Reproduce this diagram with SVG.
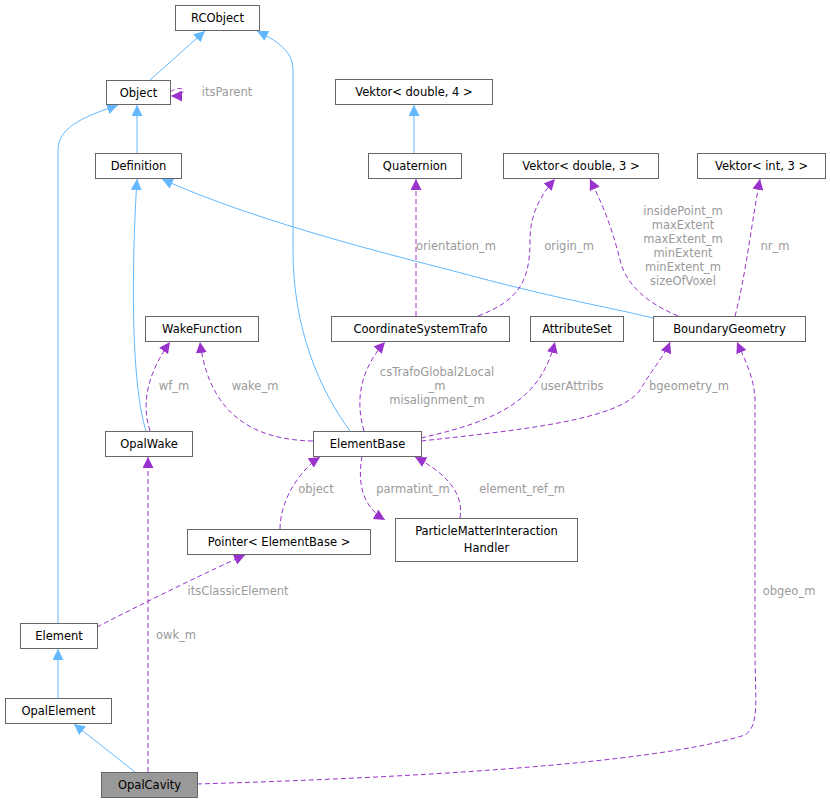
<svg xmlns="http://www.w3.org/2000/svg" width="830" height="804" viewBox="0 0 830 804">
<style>
.n rect{fill:#fff;stroke:#666;stroke-width:1}
text{font-family:"DejaVu Sans",sans-serif;font-size:11.5px;fill:#000}
.l{fill:#9a9a9a;text-anchor:middle}
.b{fill:none;stroke:#63b8ff;stroke-width:1}
.p{fill:none;stroke:#9a32cd;stroke-width:1;stroke-dasharray:5,3}
</style>
<defs>
<marker id="ab" viewBox="0 0 10 10" refX="10" refY="5" markerWidth="11" markerHeight="11" markerUnits="userSpaceOnUse" orient="auto"><path d="M0,0L10,5L0,10z" fill="#63b8ff"/></marker>
<marker id="ap" viewBox="0 0 10 10" refX="10" refY="5" markerWidth="11" markerHeight="11" markerUnits="userSpaceOnUse" orient="auto"><path d="M0,0L10,5L0,10z" fill="#9a32cd"/></marker>
</defs>
<g id="edges">
<path class="b" marker-end="url(#ab)" d="M150,80L205,31"/>
<path class="b" marker-end="url(#ab)" d="M137,153L137,105"/>
<path class="b" marker-end="url(#ab)" d="M58,623L58,150C58,125 90,115 118,105"/>
<path class="b" marker-end="url(#ab)" d="M350,431C320,390 293,330 293,250L293,70C293,50 275,40 257,31"/>
<path class="b" marker-end="url(#ab)" d="M414,153L414,105"/>
<path class="b" marker-end="url(#ab)" d="M653,318C600,305 560,300 450,270C330,240 230,210 162,179"/>
<path class="b" marker-end="url(#ab)" d="M146,431C130,380 132,260 137,179"/>
<path class="b" marker-end="url(#ab)" d="M58,698L58,649"/>
<path class="b" marker-end="url(#ab)" d="M135,772L74,724"/>
<path class="p" marker-end="url(#ap)" d="M170,92C185,82 190,96 171,96"/>
<text class="l" x="227" y="96">itsParent</text>
<path class="p" marker-end="url(#ap)" d="M416,316L416,179"/>
<text class="l" x="456" y="250">orientation_m</text>
<path class="p" marker-end="url(#ap)" d="M478,316C520,300 530,280 530,240C530,210 545,190 555,179"/>
<text class="l" x="569" y="250">origin_m</text>
<path class="p" marker-end="url(#ap)" d="M678,316C640,300 625,280 620,260C610,220 600,200 590,179"/>
<text class="l" x="683" y="215">insidePoint_m</text>
<text class="l" x="683" y="229">maxExtent</text>
<text class="l" x="683" y="243">maxExtent_m</text>
<text class="l" x="683" y="257">minExtent</text>
<text class="l" x="683" y="271">minExtent_m</text>
<text class="l" x="683" y="285">sizeOfVoxel</text>
<path class="p" marker-end="url(#ap)" d="M735,316C745,280 752,220 760,179"/>
<text class="l" x="775" y="250">nr_m</text>
<path class="p" marker-end="url(#ap)" d="M313,441C260,440 210,420 200,342"/>
<text class="l" x="255" y="390">wake_m</text>
<path class="p" marker-end="url(#ap)" d="M150,431C140,400 150,370 170,342"/>
<text class="l" x="174" y="390">wf_m</text>
<path class="p" marker-end="url(#ap)" d="M364,431C355,400 360,370 385,342"/>
<text class="l" x="437" y="376">csTrafoGlobal2Local</text>
<text class="l" x="437" y="390">_m</text>
<text class="l" x="437" y="404">misalignment_m</text>
<path class="p" marker-end="url(#ap)" d="M421,438C500,420 540,400 555,342"/>
<text class="l" x="572" y="390">userAttribs</text>
<path class="p" marker-end="url(#ap)" d="M421,441C520,430 620,420 640,390C655,365 665,355 670,342"/>
<text class="l" x="689" y="390">bgeometry_m</text>
<path class="p" marker-end="url(#ap)" d="M362,456C358,480 360,505 385,520"/>
<text class="l" x="413" y="493">parmatint_m</text>
<path class="p" marker-end="url(#ap)" d="M460,518C465,490 440,470 415,457"/>
<text class="l" x="522" y="493">element_ref_m</text>
<path class="p" marker-end="url(#ap)" d="M280,529C280,500 300,470 320,457"/>
<text class="l" x="316" y="493">object</text>
<path class="p" marker-end="url(#ap)" d="M97,627C140,605 200,575 245,555"/>
<text class="l" x="238" y="595">itsClassicElement</text>
<path class="p" marker-end="url(#ap)" d="M148,772L148,457"/>
<text class="l" x="176" y="639">owk_m</text>
<path class="p" marker-end="url(#ap)" d="M197,784C400,778 650,765 745,735C760,725 755,700 755,650L755,400C755,380 745,360 737,342"/>
<text class="l" x="789" y="595">obgeo_m</text>
</g>
<g id="RCObject" class="n"><rect x="175.5" y="5.5" width="84" height="25"/><text x="217.5" y="22" text-anchor="middle">RCObject</text></g>
<g id="Object" class="n"><rect x="106.5" y="80.5" width="64" height="24"/><text x="138.5" y="97" text-anchor="middle">Object</text></g>
<g id="Definition" class="n"><rect x="95.5" y="153.5" width="86" height="25"/><text x="138.5" y="170" text-anchor="middle">Definition</text></g>
<g id="Vektor4" class="n"><rect x="335.5" y="79.5" width="157" height="25"/><text x="414" y="96" text-anchor="middle">Vektor&lt; double, 4 &gt;</text></g>
<g id="Quaternion" class="n"><rect x="368.5" y="153.5" width="93" height="25"/><text x="415" y="170" text-anchor="middle">Quaternion</text></g>
<g id="Vektor3" class="n"><rect x="503.5" y="153.5" width="155" height="25"/><text x="581" y="170" text-anchor="middle">Vektor&lt; double, 3 &gt;</text></g>
<g id="VektorInt3" class="n"><rect x="697.5" y="153.5" width="128" height="25"/><text x="761.5" y="170" text-anchor="middle">Vektor&lt; int, 3 &gt;</text></g>
<g id="WakeFunction" class="n"><rect x="145.5" y="316.5" width="113" height="25"/><text x="202" y="333" text-anchor="middle">WakeFunction</text></g>
<g id="CoordinateSystemTrafo" class="n"><rect x="331.5" y="316.5" width="178" height="25"/><text x="420.5" y="333" text-anchor="middle">CoordinateSystemTrafo</text></g>
<g id="AttributeSet" class="n"><rect x="530.5" y="316.5" width="93" height="25"/><text x="577" y="333" text-anchor="middle">AttributeSet</text></g>
<g id="BoundaryGeometry" class="n"><rect x="653.5" y="316.5" width="152" height="25"/><text x="729.5" y="333" text-anchor="middle">BoundaryGeometry</text></g>
<g id="OpalWake" class="n"><rect x="105.5" y="431.5" width="87" height="25"/><text x="149" y="448" text-anchor="middle">OpalWake</text></g>
<g id="ElementBase" class="n"><rect x="313.5" y="431.5" width="108" height="25"/><text x="367.5" y="448" text-anchor="middle">ElementBase</text></g>
<g id="Pointer" class="n"><rect x="187.5" y="529.5" width="183" height="25"/><text x="279" y="546" text-anchor="middle">Pointer&lt; ElementBase &gt;</text></g>
<g id="PMIH" class="n"><rect x="395.5" y="518.5" width="182" height="43"/><text x="486.5" y="535" text-anchor="middle">ParticleMatterInteraction</text><text x="486.5" y="552" text-anchor="middle">Handler</text></g>
<g id="Element" class="n"><rect x="20.5" y="623.5" width="77" height="25"/><text x="59" y="640" text-anchor="middle">Element</text></g>
<g id="OpalElement" class="n"><rect x="5.5" y="698.5" width="106" height="25"/><text x="58.5" y="715" text-anchor="middle">OpalElement</text></g>
<g id="OpalCavity" class="n"><rect x="101.5" y="772.5" width="96" height="25" style="fill:#999"/><text x="149.5" y="789" text-anchor="middle">OpalCavity</text></g>
</svg>
